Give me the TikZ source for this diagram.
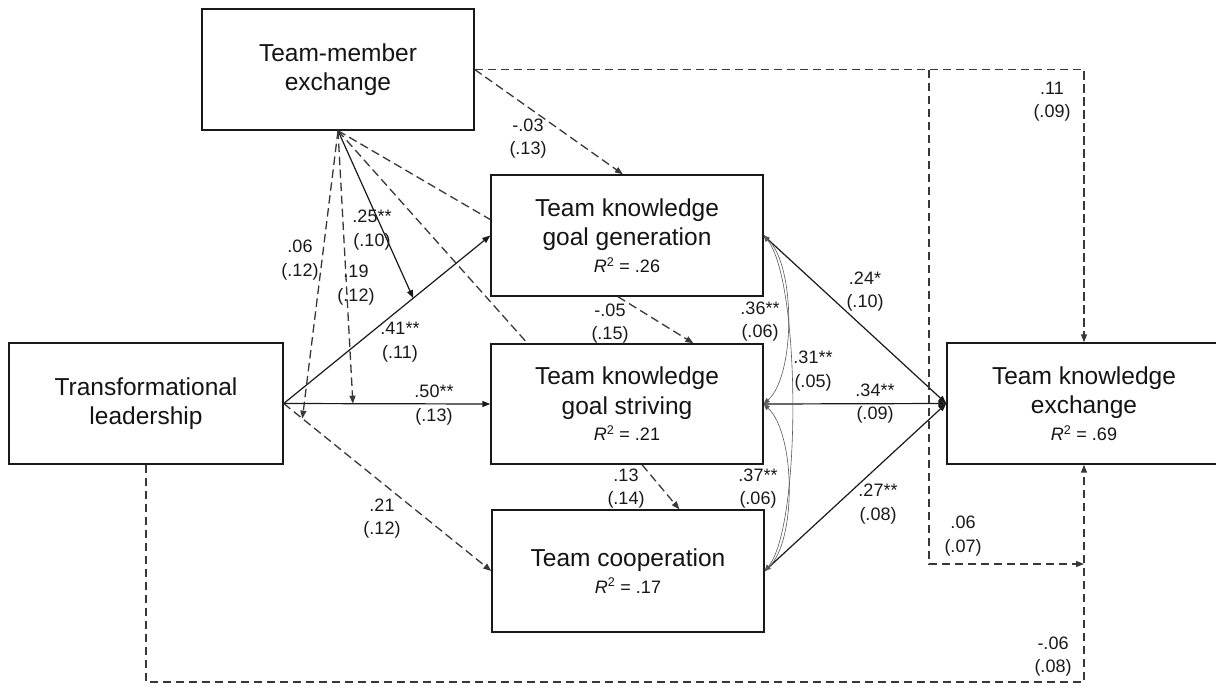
\documentclass[tikz,border=0pt]{standalone}
\usepackage{fontspec}
\setmainfont{Liberation Sans}
\usetikzlibrary{arrows.meta,calc}
\begin{document}
\begin{tikzpicture}[x=1pt,y=-1pt,
  box/.style={draw=black!90, line width=1.4pt, inner sep=0pt, align=center, font=\fontsize{24.5}{29.5}\selectfont, text=black!92},
  lbl/.style={inner sep=0pt, align=center, font=\fontsize{18}{23.5}\selectfont, text=black!90},
  tip/.style={-{Triangle[length=8pt,width=6pt]}},
  solidline/.style={line width=1.2pt, draw=black!90},
  dashline/.style={line width=1.3pt, draw=black!78, dash pattern=on 8.5pt off 4.5pt},
  corr/.style={line width=0.6pt, draw=black!65, {Triangle[length=6pt,width=5pt]}-{Triangle[length=6pt,width=5pt]}},
]
\fill[white] (0,0) rectangle (1216,686);
\useasboundingbox (0,0) rectangle (1216,686);

% boxes
\node[box, minimum width=272pt, minimum height=121pt] (tmx) at (338,69.5) {Team-member\\exchange};
\node[box, minimum width=274pt, minimum height=121pt] (tl) at (146,403.5) {Transformational\\leadership};
\node[box, minimum width=272pt, minimum height=121pt] (tkgg) at (627,235.5) {Team knowledge\\goal generation\\[-3pt]{\fontsize{18}{22}\selectfont\textit{R}\textsuperscript{2} = .26}};
\node[box, minimum width=272pt, minimum height=120pt] (tkgs) at (627,404) {Team knowledge\\goal striving\\[-3pt]{\fontsize{18}{22}\selectfont\textit{R}\textsuperscript{2} = .21}};
\node[box, minimum width=272pt, minimum height=122pt] (tc) at (628,571) {Team cooperation\\[-3pt]{\fontsize{18}{22}\selectfont\textit{R}\textsuperscript{2} = .17}};
\node[box, minimum width=274pt, minimum height=121pt] (tke) at (1084,403.5) {Team knowledge\\exchange\\[-3pt]{\fontsize{18}{22}\selectfont\textit{R}\textsuperscript{2} = .69}};

% helper coordinates
\coordinate (m1) at ($(tl.east)!0.627!(tkgg.west)$);
\coordinate (m2) at ($(tl.east)!0.335!(tkgs.west)$);
\coordinate (m3) at ($(tl.east)!0.09!(tc.west)$);
\coordinate (gga) at ($(tkgg.north west)!0.37!(tkgg.south west)$);
\coordinate (gsa) at ($(tkgs.north west)!0.136!(tkgs.north east)$);
\coordinate (ggt) at ($(tkgg.north west)!0.485!(tkgg.north east)$);
\coordinate (ggb) at ($(tkgg.south west)!0.467!(tkgg.south east)$);
\coordinate (gst) at ($(tkgs.north west)!0.743!(tkgs.north east)$);
\coordinate (gsb) at ($(tkgs.south west)!0.555!(tkgs.south east)$);
\coordinate (tct) at ($(tc.north west)!0.688!(tc.north east)$);
\coordinate (kx) at (1084,0);
\coordinate (vx) at (929,0);
\coordinate (hy) at (0,564);
\coordinate (by) at (0,682);

% TL paths
\draw[solidline, tip] (tl.east) -- (tkgg.west);
\draw[solidline, tip] (tl.east) -- (tkgs.west);
\draw[dashline, tip] (tl.east) -- (tc.west);

% TMX moderation paths
\draw[solidline, tip] (tmx.south) -- (m1);
\draw[dashline, tip] (tmx.south) -- (m2);
\draw[dashline, tip] (tmx.south) -- (m3);
\draw[dashline] (tmx.south) -- (gga);
\draw[dashline] (tmx.south) -- (gsa);
\draw[dashline, tip] (tmx.east) -- (ggt);

% mediator chain
\draw[dashline, tip] (ggb) -- (gst);
\draw[dashline, tip] (gsb) -- (tct);

% to TKE
\draw[solidline, tip] (tkgg.east) -- (tke.west);
\draw[solidline, tip] (tkgs.east) -- (tke.west);
\draw[solidline, tip] (tc.east) -- (tke.west);

% correlations
\draw[corr] (tkgg.east) .. controls +(32,30) and +(32,-29) .. (tkgs.east);
\draw[corr] (tkgg.east) .. controls +(37,45) and +(37,-45) .. (tc.east);
\draw[corr] (tkgs.east) .. controls +(32,30) and +(32,-30) .. (tc.east);

% right-hand dashed paths
\draw[dashline, tip] (tmx.east) -- (tmx.east -| kx) -- (kx |- tke.north);
\draw[dashline, tip] (tmx.east -| vx) -- (vx |- hy) -- (kx |- hy);
\draw[dashline, tip] (tl.south) -- (tl.south |- by) -- (kx |- by) -- (kx |- tke.south);

% labels
\node[lbl] (l03) at (528,138.5) {-.03\\(.13)};
\node[lbl] (l11) at (1052,101.5) {.11\\(.09)};
\node[lbl] (l06a) at (300,260) {.06\\(.12)};
\node[lbl] (l25) at (372,230) {.25**\\(.10)};
\node[lbl] (l19) at (356,285) {.19\\(.12)};
\node[lbl] (l41) at (400,342) {.41**\\(.11)};
\node[lbl] (l50) at (434,405) {.50**\\(.13)};
\node[lbl] (l21) at (382,518.5) {.21\\(.12)};
\node[lbl] (l05) at (610,323.5) {-.05\\(.15)};
\node[lbl] (l13) at (626,488.5) {.13\\(.14)};
\node[lbl] (l36) at (760,321.5) {.36**\\(.06)};
\node[lbl] (l37) at (758,488.5) {.37**\\(.06)};
\node[lbl] (l31) at (813,371) {.31**\\(.05)};
\node[lbl] (l24) at (865,291.5) {.24*\\(.10)};
\node[lbl] (l34) at (875,403.5) {.34**\\(.09)};
\node[lbl] (l27) at (878,504) {.27**\\(.08)};
\node[lbl] (l06b) at (963,536) {.06\\(.07)};
\node[lbl] (l06c) at (1053,656.5) {-.06\\(.08)};
\end{tikzpicture}
\end{document}
